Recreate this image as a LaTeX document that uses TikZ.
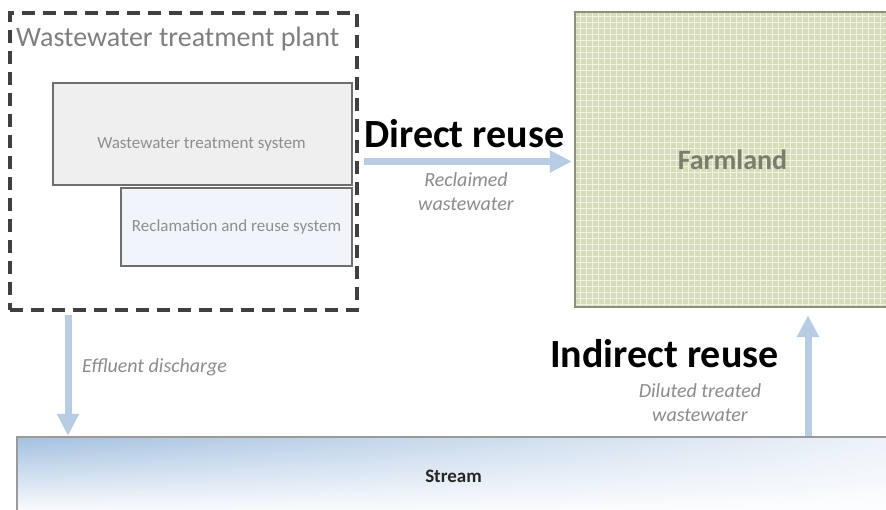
\documentclass[tikz,border=0pt]{standalone}
\usepackage{fontspec}
\setmainfont{Carlito}
\usetikzlibrary{arrows.meta,fadings,calc}
\definecolor{dashc}{HTML}{404040}
\definecolor{sysa}{HTML}{EFEFEF}
\definecolor{sysb}{HTML}{F1F5FB}
\definecolor{boxc}{HTML}{6E6E6E}
\definecolor{farmc}{HTML}{D6DCBA}
\definecolor{gridc}{HTML}{F1F3E3}
\definecolor{farmb}{HTML}{8E9078}
\definecolor{arrc}{HTML}{B8CCE4}
\definecolor{strm}{HTML}{A4C1E0}
\definecolor{strmb}{HTML}{9A9A9A}
\definecolor{titlec}{HTML}{7F7F7F}
\definecolor{syst}{HTML}{8E8E8E}
\definecolor{labc}{HTML}{8C8C8C}
\definecolor{farmt}{HTML}{7A7C6C}
\begin{document}
\begin{tikzpicture}[x=1pt,y=-1pt,
  plantbox/.style={draw=dashc, line width=3.5pt, dash pattern=on 13pt off 8pt, inner sep=0pt},
  sysbox/.style={draw=boxc, line width=1.5pt, inner sep=0pt},
  systext/.style={text=syst, font=\fontsize{17}{20}\selectfont, inner sep=0pt},
  titletext/.style={text=titlec, font=\fontsize{28}{32}\selectfont, inner sep=0pt},
  bigtext/.style={text=black, font=\fontsize{40}{46}\selectfont\bfseries, inner sep=0pt},
  labtext/.style={text=labc, font=\fontsize{20}{24}\selectfont\itshape, align=center, inner sep=0pt},
  farmtext/.style={text=farmt, font=\fontsize{28}{32}\selectfont\bfseries, inner sep=0pt},
  streamtext/.style={text=black!85, font=\fontsize{19}{22}\selectfont\bfseries, inner sep=0pt},
  bigarrow/.style={draw=arrc, line width=7pt, -{Triangle[width=21pt,length=22pt]}},
  gridline/.style={draw=gridc, line width=0.9pt},
]
\useasboundingbox (0,0) rectangle (886,510);
\clip (0,0) rectangle (886,510);
\fill[white] (0,0) rectangle (886,510);

% wastewater treatment plant
\node[plantbox, minimum width=347pt, minimum height=297pt] (wwtp) at (183.5,161.5) {};
\node[titletext, anchor=base west] (wtitle) at (16,47) {Wastewater treatment plant};
\node[sysbox, fill=sysa, minimum width=299pt, minimum height=102pt] (sys1) at (202.5,134) {};
\node[systext] (sys1t) at (201.5,144) {Wastewater treatment system};
\node[sysbox, fill=sysb, minimum width=231pt, minimum height=78pt] (sys2) at (236.5,227) {};
\node[systext] (sys2t) at (sys2.center) {Reclamation and reuse system};

% farmland
\node[fill=farmc, inner sep=0pt, minimum width=315pt, minimum height=295pt] (farm) at (732.5,159.5) {};
\begin{scope}
  \clip (farm.south west) rectangle (farm.north east);
  \foreach \gx in {580,586,...,892} {\draw[gridline] (\gx,12) -- (\gx,307);}
  \foreach \gy in {16,22,...,306} {\draw[gridline] (575,\gy) -- (892,\gy);}
\end{scope}
\draw[farmb, line width=2pt] (farm.south west) rectangle (farm.north east);
\node[farmtext] (farmt) at (farm.center) {Farmland};

% stream
\node[inner sep=0pt, minimum width=873pt, minimum height=78pt] (stream) at (453.5,476) {};
\shade[top color=strm, bottom color=white] (stream.south west) rectangle (stream.north east);
\fill[white, path fading=west, fill opacity=0.8] (stream.south west) rectangle (stream.north east);
\draw[strmb, line width=2pt] (stream.south west) -- (stream.north west) -- (stream.north east);
\node[streamtext] (streamt) at (stream.center) {Stream};

% connectors
\coordinate (ex) at (68,0);
\coordinate (ix) at (808,0);
\coordinate (fw) at (farm.west);
\draw[bigarrow, shorten <=5pt, shorten >=3pt] (wwtp.east) -- (fw |- wwtp.east);
\draw[bigarrow, shorten <=3pt, shorten >=1pt] (wwtp.south -| ex) -- (stream.north -| ex);
\draw[bigarrow, shorten <=1pt, shorten >=8pt] (stream.north -| ix) -- (farm.south -| ix);

% labels
\node[bigtext, anchor=base west] (dr) at (364,148) {Direct reuse};
\node[labtext] (rw) at (466,192) {Reclaimed\\wastewater};
\node[labtext, anchor=west] (ed) at (82,367) {Effluent discharge};
\node[bigtext, anchor=base west] (ir) at (550,367) {Indirect reuse};
\node[labtext] (dt) at (700,403) {Diluted treated\\wastewater};
\end{tikzpicture}
\end{document}
